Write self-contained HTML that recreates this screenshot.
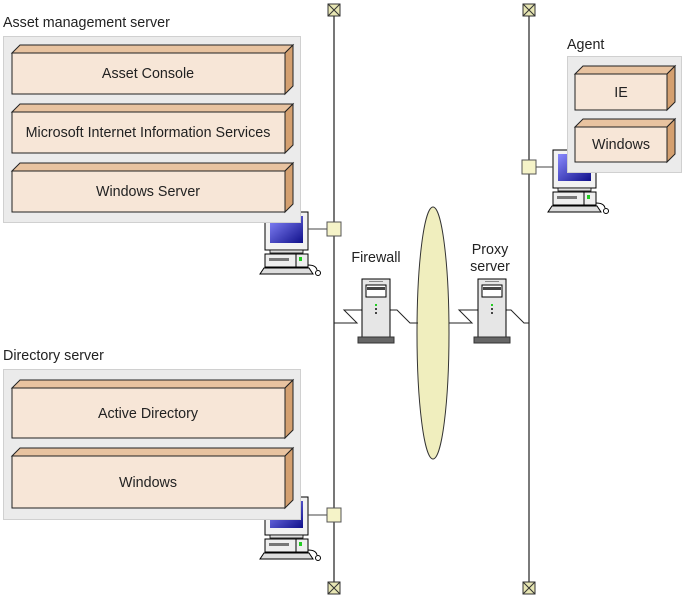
<!DOCTYPE html>
<html><head><meta charset="utf-8"><style>body{margin:0;background:#fff}svg{display:block}text{font-family:"Liberation Sans",sans-serif;font-size:14.3px;fill:#222}</style></head><body>
<svg width="684" height="599" viewBox="0 0 684 599" xmlns="http://www.w3.org/2000/svg">
<defs>
<linearGradient id="scr" x1="0" y1="0" x2="1" y2="1"><stop offset="0" stop-color="#8a8aff"/><stop offset="1" stop-color="#10108a"/></linearGradient>
<g id="pc">
<rect x="0" y="0" width="43" height="38" fill="#f2f2f2" stroke="#000"/>
<rect x="5" y="4" width="33" height="27" fill="url(#scr)"/>
<rect x="5" y="38" width="33" height="3" fill="#ddd" stroke="#000" stroke-width="0.8"/>
<rect x="0" y="42" width="43" height="13" fill="#eee" stroke="#000"/>
<rect x="4" y="46" width="20" height="3" fill="#777"/>
<rect x="34" y="45" width="3" height="4" fill="#2c2"/>
<line x1="31" y1="42" x2="31" y2="55" stroke="#000"/>
<path d="M-1,56 H44 L48,62 H-5 Z" fill="#ddd" stroke="#000"/>
<path d="M43,53 q8,0 9,5" fill="none" stroke="#000"/>
<circle cx="53" cy="61" r="2.5" fill="#fff" stroke="#000"/>
</g>
<g id="sq"><rect x="-7" y="-7" width="14" height="14" fill="#f5f3c8" stroke="#555"/></g>
<g id="term"><rect x="-6" y="-6" width="12" height="12" fill="#e7e6b3" stroke="#333"/><path d="M-6,-6 L6,6 M6,-6 L-6,6" stroke="#333"/></g>
<g id="srv">
<rect x="0" y="0" width="28" height="60" fill="#e6e6e6" stroke="#000"/>
<rect x="4" y="6" width="20" height="12" fill="#fff" stroke="#000"/>
<rect x="5" y="8" width="18" height="3" fill="#444"/>
<rect x="7" y="2" width="14" height="1" fill="#888"/>
<rect x="13" y="25" width="2" height="2" fill="#2c2"/>
<rect x="13" y="29" width="2" height="2" fill="#444"/>
<rect x="13" y="33" width="2" height="2" fill="#444"/>
<rect x="-4" y="58" width="36" height="6" fill="#666" stroke="#333"/>
</g>
</defs>

<line x1="334" y1="16" x2="334" y2="582" stroke="#777" stroke-width="2"/>
<line x1="529" y1="16" x2="529" y2="582" stroke="#222" stroke-width="1.2"/>
<use href="#term" x="334" y="10"/><use href="#term" x="334" y="588"/>
<use href="#term" x="529" y="10"/><use href="#term" x="529" y="588"/>

<use href="#pc" x="265" y="212"/>
<line x1="308" y1="229" x2="327" y2="229" stroke="#444"/>
<use href="#sq" x="334" y="229"/>
<use href="#pc" x="265" y="497"/>
<line x1="308" y1="515" x2="327" y2="515" stroke="#444"/>
<use href="#sq" x="334" y="515"/>
<use href="#pc" x="553" y="150"/>
<line x1="536" y1="167" x2="553" y2="167" stroke="#444"/>
<use href="#sq" x="529" y="167"/>

<text x="3" y="27">Asset management server</text>
<rect x="3.5" y="36.5" width="297" height="186" fill="#ebebeb" stroke="#d0d0d0"/>
<g stroke="#222" stroke-width="1">
<path d="M12,53 L20,45 H293 L285,53 Z" fill="#e8c3a0"/><path d="M285,53 L293,45 V86 L285,94 Z" fill="#d4a070"/><rect x="12" y="53" width="273" height="41" fill="#f7e6d7"/>
<path d="M12,112 L20,104 H293 L285,112 Z" fill="#e8c3a0"/><path d="M285,112 L293,104 V145 L285,153 Z" fill="#d4a070"/><rect x="12" y="112" width="273" height="41" fill="#f7e6d7"/>
<path d="M12,171 L20,163 H293 L285,171 Z" fill="#e8c3a0"/><path d="M285,171 L293,163 V204 L285,212 Z" fill="#d4a070"/><rect x="12" y="171" width="273" height="41" fill="#f7e6d7"/>
</g>
<text x="148" y="78" text-anchor="middle">Asset Console</text>
<text x="148" y="137" text-anchor="middle">Microsoft Internet Information Services</text>
<text x="148" y="196" text-anchor="middle">Windows Server</text>

<text x="3" y="360">Directory server</text>
<rect x="3.5" y="369.5" width="297" height="150" fill="#ebebeb" stroke="#d0d0d0"/>
<g stroke="#222" stroke-width="1">
<path d="M12,388 L20,380 H293 L285,388 Z" fill="#e8c3a0"/><path d="M285,388 L293,380 V430 L285,438 Z" fill="#d4a070"/><rect x="12" y="388" width="273" height="50" fill="#f7e6d7"/>
<path d="M12,456 L20,448 H293 L285,456 Z" fill="#e8c3a0"/><path d="M285,456 L293,448 V500 L285,508 Z" fill="#d4a070"/><rect x="12" y="456" width="273" height="52" fill="#f7e6d7"/>
</g>
<text x="148" y="418" text-anchor="middle">Active Directory</text>
<text x="148" y="487" text-anchor="middle">Windows</text>

<text x="567" y="49">Agent</text>
<rect x="567.5" y="56.5" width="114" height="116" fill="#ebebeb" stroke="#d0d0d0"/>
<g stroke="#222" stroke-width="1">
<path d="M575,74 L583,66 H675 L667,74 Z" fill="#e8c3a0"/><path d="M667,74 L675,66 V102 L667,110 Z" fill="#d4a070"/><rect x="575" y="74" width="92" height="36" fill="#f7e6d7"/>
<path d="M575,127 L583,119 H675 L667,127 Z" fill="#e8c3a0"/><path d="M667,127 L675,119 V154 L667,162 Z" fill="#d4a070"/><rect x="575" y="127" width="92" height="35" fill="#f7e6d7"/>
</g>
<text x="621" y="97" text-anchor="middle">IE</text>
<text x="621" y="149" text-anchor="middle">Windows</text>

<ellipse cx="433" cy="333" rx="16" ry="126" fill="#f0eebe" stroke="#333"/>
<g fill="none" stroke="#222">
<polyline points="334,323 357,323 344,310 362,310"/>
<polyline points="390,310 397,310 410,323 418,323"/>
<polyline points="449,323 472,323 459,310 478,310"/>
<polyline points="506,310 511,310 524,323 529,323"/>
</g>
<use href="#srv" x="362" y="279"/>
<use href="#srv" x="478" y="279"/>
<text x="376" y="262" text-anchor="middle">Firewall</text>
<text x="490" y="254" text-anchor="middle">Proxy</text>
<text x="490" y="271" text-anchor="middle">server</text>
</svg>
</body></html>
